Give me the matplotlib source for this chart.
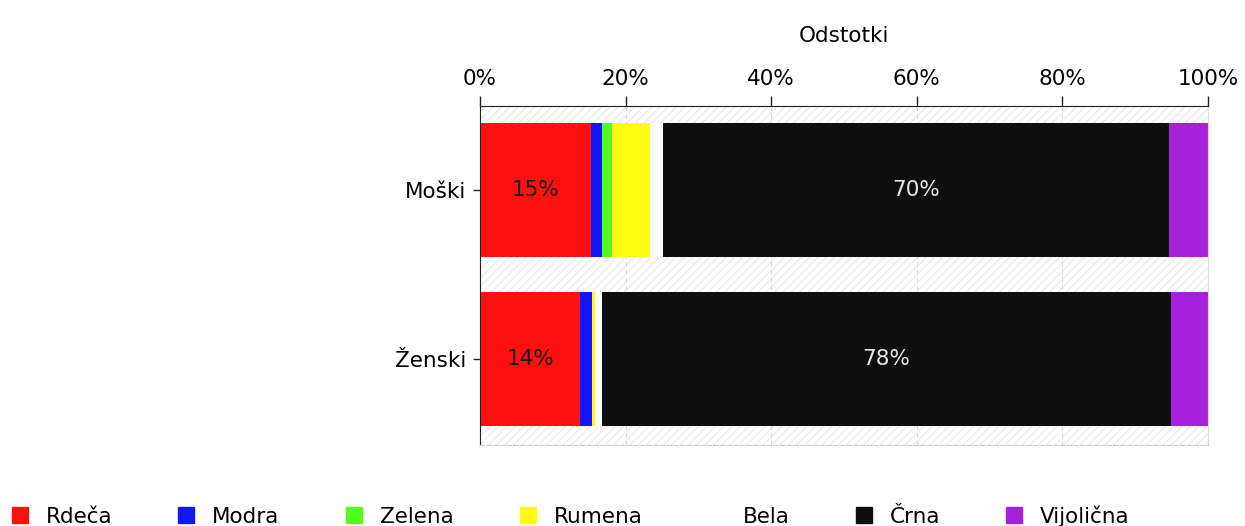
import matplotlib
matplotlib.use('Agg')
import matplotlib.pyplot as plt
from matplotlib.patches import Rectangle
from matplotlib.lines import Line2D
import numpy as np

# data (percent of answers per group)
groups = ['Moški', 'Ženski']
colours = ['Rdeča', 'Modra', 'Zelena', 'Rumena', 'Bela', 'Črna', 'Vijolična']
moski = [15.2, 1.5, 1.5, 5.1, 1.8, 69.5, 5.4]
zenski = [13.8, 1.6, 0.0, 0.4, 0.9, 78.2, 5.1]
shown_labels = {0: ('15%', '14%'), 5: ('70%', '78%')}
xticks = [0, 20, 40, 60, 80, 100]

fill = ['#fc1010', '#1414fa', '#52fb1e', '#fffa10', '#ffffff', '#0f0f0f', '#a521dc']
text_col = {0: '#1a1a1a', 5: '#e6e6e6'}
fs = 15.5

plt.rcParams['font.family'] = 'DejaVu Sans'
plt.rcParams['hatch.linewidth'] = 0.9
plt.rcParams['hatch.color'] = '#ebebeb'

fig = plt.figure(figsize=(12.45, 5.26), dpi=100)
ax = fig.add_axes([0.3855, 0.154, 0.5848, 0.6445])

# hatched plot background
ax.add_patch(Rectangle((0, 0), 1, 1, transform=ax.transAxes, facecolor='white',
                       edgecolor='#ebebeb', hatch='////', linewidth=0, zorder=0))
for t in xticks[1:-1]:
    ax.axvline(t, color='#d8d8d8', linestyle=(0, (4, 3)), linewidth=0.8, zorder=1)

ypos = np.arange(len(groups))
vals = np.array([moski, zenski])
left = np.zeros(len(groups))
for i, name in enumerate(colours):
    ax.barh(ypos, vals[:, i], left=left, height=0.79, color=fill[i], zorder=2, label=name)
    if i in shown_labels:
        for j in range(len(groups)):
            ax.text(left[j] + vals[j, i] / 2, ypos[j], shown_labels[i][j],
                    ha='center', va='center', fontsize=fs, color=text_col[i], zorder=3)
    left += vals[:, i]

ax.set_xlim(0, 100)
ax.set_ylim(1.506, -0.494)
ax.set_yticks(ypos)
ax.set_yticklabels(groups, fontsize=fs)
ax.set_xticks(xticks)
ax.set_xticklabels([f'{t}%' for t in xticks], fontsize=fs)
ax.xaxis.tick_top()
ax.xaxis.set_label_position('top')
ax.set_xlabel('Odstotki', fontsize=fs, labelpad=20)
ax.tick_params(axis='x', length=7, width=1, pad=5, color='#222222')
ax.tick_params(axis='y', length=5, width=1, pad=5, color='#222222')

ax.spines['top'].set_color('#222222')
ax.spines['left'].set_color('#222222')
ax.spines['right'].set_color('#dddddd')
ax.spines['bottom'].set_color('#cccccc')
ax.spines['bottom'].set_linestyle((0, (4, 2)))

handles = [Line2D([], [], marker='s', linestyle='none', markersize=11,
                  markerfacecolor=fill[i], markeredgecolor=fill[i]) for i in range(len(colours))]
fig.legend(handles, colours, loc='lower left', bbox_to_anchor=(-0.005, -0.03), ncol=7,
           frameon=False, fontsize=fs, handletextpad=0.7, columnspacing=2.95,
           handlelength=1.0, borderaxespad=0.3)

fig.savefig('out.png', dpi=100)
